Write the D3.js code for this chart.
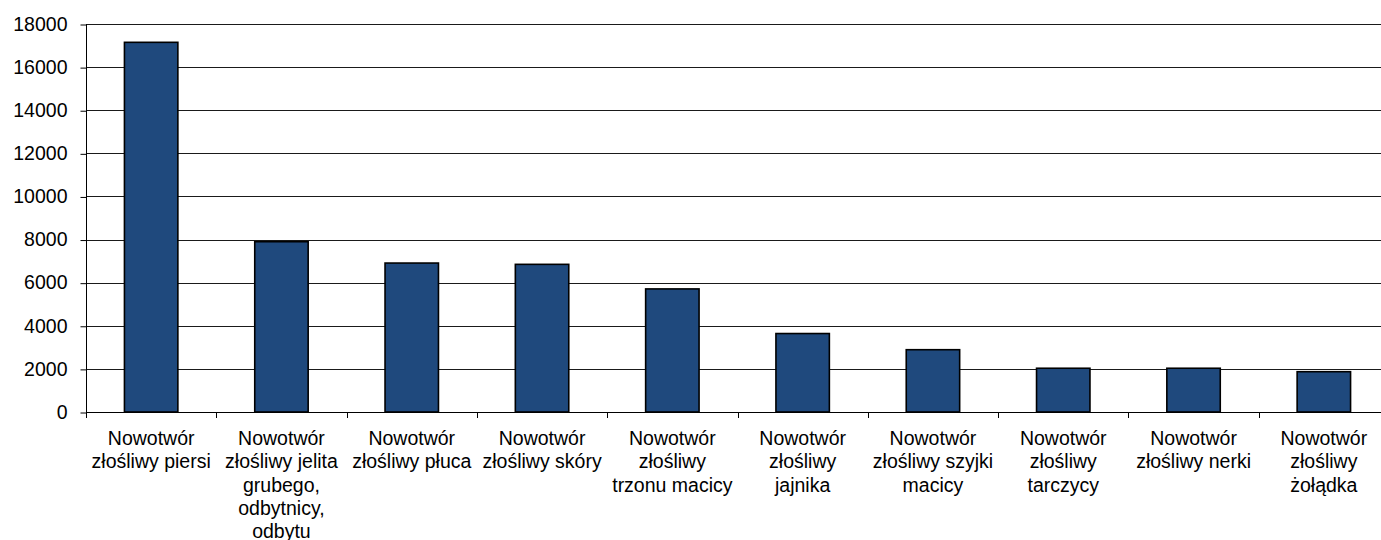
<!DOCTYPE html>
<html>
<head>
<meta charset="utf-8">
<script src="https://cdn.jsdelivr.net/npm/d3@7"></script>
<style>
  html, body { margin: 0; padding: 0; background: #fff; overflow: hidden; }
  svg { display: block; }
  text { font-family: "Liberation Sans", Arial, sans-serif; fill: #000; }
</style>
</head>
<body>
<svg id="chart" width="1381" height="540"></svg>
<script>
// Data
const categories = [
  "Nowotwór\nzłośliwy piersi",
  "Nowotwór\nzłośliwy jelita\ngrubego,\nodbytnicy,\nodbytu",
  "Nowotwór\nzłośliwy płuca",
  "Nowotwór\nzłośliwy skóry",
  "Nowotwór\nzłośliwy\ntrzonu macicy",
  "Nowotwór\nzłośliwy\njajnika",
  "Nowotwór\nzłośliwy szyjki\nmacicy",
  "Nowotwór\nzłośliwy\ntarczycy",
  "Nowotwór\nzłośliwy nerki",
  "Nowotwór\nzłośliwy\nżołądka"
];
const values = [17150, 7900, 6910, 6850, 5710, 3640, 2890, 2030, 2030, 1870];
const yTicks = [0, 2000, 4000, 6000, 8000, 10000, 12000, 14000, 16000, 18000];

const svg = d3.select("#chart");
const mLeft = 86, mRight = 1389, mTop = 24, mBottom = 412;
const fontSize = 19.5;

const x = d3.scaleBand().domain(categories).range([mLeft, mRight]).padding(0);
const y = d3.scaleLinear().domain([0, 18000]).range([mBottom, mTop]);
const barFrac = 0.41;

// gridlines
svg.append("g").selectAll("line").data(yTicks.filter(d => d > 0)).join("line")
  .attr("x1", mLeft).attr("x2", mRight)
  .attr("y1", d => Math.round(y(d)) + 0.5).attr("y2", d => Math.round(y(d)) + 0.5)
  .attr("stroke", "#1a1a1a").attr("stroke-width", 1);

// bars
svg.append("g").selectAll("rect").data(values).join("rect")
  .attr("x", (d, i) => x(categories[i]) + x.bandwidth() * (1 - barFrac) / 2)
  .attr("width", x.bandwidth() * barFrac)
  .attr("y", d => y(d))
  .attr("height", d => y(0) - y(d))
  .attr("fill", "#1F497D")
  .attr("stroke", "#000").attr("stroke-width", 1.6);

// y axis
const yAxis = svg.append("g").attr("transform", `translate(${mLeft + 0.5},0)`)
  .call(d3.axisLeft(y).tickValues(yTicks).tickSize(6).tickPadding(13).tickSizeOuter(0).tickFormat(d3.format("d")));
yAxis.select(".domain").remove();
yAxis.append("line").attr("x1", 0).attr("x2", 0).attr("y1", mTop).attr("y2", mBottom + 5).attr("stroke", "#000");
yAxis.selectAll(".tick line").attr("stroke", "#000").attr("transform", "translate(0,0.5)");
yAxis.selectAll(".tick text").attr("font-size", fontSize).attr("font-family", "Liberation Sans, Arial, sans-serif").attr("fill", "#000");

// x axis line and ticks at band boundaries
const xg = svg.append("g");
xg.append("line").attr("x1", mLeft).attr("x2", mRight)
  .attr("y1", mBottom + 0.5).attr("y2", mBottom + 0.5).attr("stroke", "#000");
const boundaries = categories.map(c => x(c)).concat([x(categories[categories.length - 1]) + x.bandwidth()]);
xg.selectAll("line.tk").data(boundaries).join("line").attr("class", "tk")
  .attr("x1", d => Math.round(d) + 0.5).attr("x2", d => Math.round(d) + 0.5)
  .attr("y1", mBottom).attr("y2", mBottom + 6).attr("stroke", "#000");

// category labels
const lab = xg.selectAll("text.cat").data(categories).join("text").attr("class", "cat")
  .attr("text-anchor", "middle").attr("font-size", fontSize)
  .attr("transform", d => `translate(${x(d) + x.bandwidth() / 2},0)`);
lab.each(function(d) {
  const t = d3.select(this);
  d.split("\n").forEach((line, i) => {
    t.append("tspan").attr("x", 0).attr("y", 445 + i * 23.3).text(line);
  });
});
</script>
</body>
</html>
